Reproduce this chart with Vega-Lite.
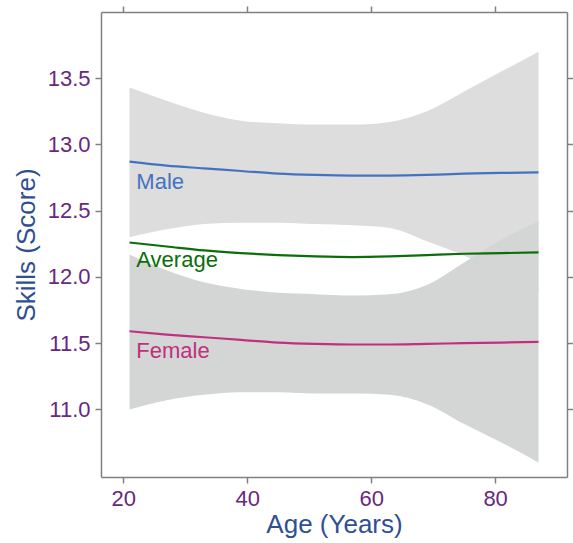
{
  "$schema": "https://vega.github.io/schema/vega-lite/v6.json",
  "autosize": "none",
  "padding": {"left": 101, "top": 12, "right": 6, "bottom": 66},
  "width": 466,
  "height": 465,
  "background": "white",
  "config": {
    "view": {"stroke": null},
    "font": "Liberation Sans",
    "axis": {
      "domainColor": "#808080",
      "domainWidth": 1.5,
      "tickColor": "#808080",
      "tickWidth": 1.5,
      "tickSize": 6,
      "grid": false,
      "labelFont": "Liberation Sans",
      "labelFontSize": 22,
      "labelColor": "#68287d",
      "titleFont": "Liberation Sans",
      "titleFontSize": 26,
      "titleFontWeight": "normal",
      "titleColor": "#2f4f94"
    }
  },
  "datasets": {
    "fits": [
      {"age": 21, "series": "Male", "fit": 12.87, "lo": 12.30, "hi": 13.43},
      {"age": 27, "series": "Male", "fit": 12.84, "lo": 12.36, "hi": 13.33},
      {"age": 33, "series": "Male", "fit": 12.82, "lo": 12.40, "hi": 13.24},
      {"age": 39, "series": "Male", "fit": 12.80, "lo": 12.41, "hi": 13.18},
      {"age": 45, "series": "Male", "fit": 12.78, "lo": 12.41, "hi": 13.16},
      {"age": 51, "series": "Male", "fit": 12.77, "lo": 12.40, "hi": 13.15},
      {"age": 57, "series": "Male", "fit": 12.765, "lo": 12.39, "hi": 13.15},
      {"age": 63, "series": "Male", "fit": 12.765, "lo": 12.37, "hi": 13.17},
      {"age": 69, "series": "Male", "fit": 12.77, "lo": 12.27, "hi": 13.25},
      {"age": 75, "series": "Male", "fit": 12.78, "lo": 12.16, "hi": 13.40},
      {"age": 81, "series": "Male", "fit": 12.785, "lo": 12.02, "hi": 13.55},
      {"age": 87, "series": "Male", "fit": 12.79, "lo": 11.88, "hi": 13.70},
      {"age": 21, "series": "Female", "fit": 11.59, "lo": 11.00, "hi": 12.17},
      {"age": 27, "series": "Female", "fit": 11.565, "lo": 11.07, "hi": 12.05},
      {"age": 33, "series": "Female", "fit": 11.545, "lo": 11.11, "hi": 11.96},
      {"age": 39, "series": "Female", "fit": 11.525, "lo": 11.13, "hi": 11.91},
      {"age": 45, "series": "Female", "fit": 11.505, "lo": 11.13, "hi": 11.88},
      {"age": 51, "series": "Female", "fit": 11.495, "lo": 11.12, "hi": 11.87},
      {"age": 57, "series": "Female", "fit": 11.49, "lo": 11.12, "hi": 11.86},
      {"age": 63, "series": "Female", "fit": 11.49, "lo": 11.11, "hi": 11.87},
      {"age": 69, "series": "Female", "fit": 11.495, "lo": 11.04, "hi": 11.94},
      {"age": 75, "series": "Female", "fit": 11.50, "lo": 10.89, "hi": 12.11},
      {"age": 81, "series": "Female", "fit": 11.505, "lo": 10.75, "hi": 12.28},
      {"age": 87, "series": "Female", "fit": 11.51, "lo": 10.60, "hi": 12.42},
      {"age": 21, "series": "Average", "fit": 12.26},
      {"age": 27, "series": "Average", "fit": 12.23},
      {"age": 33, "series": "Average", "fit": 12.20},
      {"age": 39, "series": "Average", "fit": 12.18},
      {"age": 45, "series": "Average", "fit": 12.165},
      {"age": 51, "series": "Average", "fit": 12.155},
      {"age": 57, "series": "Average", "fit": 12.15},
      {"age": 63, "series": "Average", "fit": 12.155},
      {"age": 69, "series": "Average", "fit": 12.165},
      {"age": 75, "series": "Average", "fit": 12.175},
      {"age": 81, "series": "Average", "fit": 12.18},
      {"age": 87, "series": "Average", "fit": 12.185}
    ],
    "labels": [
      {"series": "Male", "age": 22.1, "score": 12.72},
      {"series": "Average", "age": 22.1, "score": 12.13},
      {"series": "Female", "age": 22.1, "score": 11.44}
    ]
  },
  "resolve": {"axis": {"x": "independent", "y": "independent"}},
  "layer": [
    {
      "data": {"name": "fits"},
      "transform": [{"filter": "datum.series === 'Male'"}],
      "mark": {"type": "area", "color": "#dddddd", "interpolate": "monotone"},
      "encoding": {
        "x": {"field": "age", "type": "quantitative", "scale": {"domain": [16.4, 91.6], "nice": false, "zero": false},
          "axis": {"orient": "bottom", "values": [20, 40, 60, 80], "title": "Age (Years)", "labelPadding": 5, "titlePadding": 2}},
        "y": {"field": "lo", "type": "quantitative", "scale": {"domain": [10.49, 14.0], "nice": false, "zero": false},
          "axis": {"orient": "left", "values": [11.0, 11.5, 12.0, 12.5, 13.0, 13.5], "format": ".1f", "title": "Skills (Score)", "labelPadding": 5, "titlePadding": 8}},
        "y2": {"field": "hi"}
      }
    },
    {
      "data": {"name": "fits"},
      "transform": [{"filter": "datum.series === 'Female'"}],
      "mark": {"type": "area", "color": "#d4d6d6", "interpolate": "monotone"},
      "encoding": {
        "x": {"field": "age", "type": "quantitative",
          "axis": {"orient": "top", "values": [20, 40, 60, 80], "labels": false, "title": null}},
        "y": {"field": "lo", "type": "quantitative",
          "axis": {"orient": "right", "values": [11.0, 11.5, 12.0, 12.5, 13.0, 13.5], "labels": false, "title": null}},
        "y2": {"field": "hi"}
      }
    },
    {
      "data": {"name": "fits"},
      "mark": {"type": "line", "strokeWidth": 2.2, "interpolate": "monotone"},
      "encoding": {
        "x": {"field": "age", "type": "quantitative", "axis": null},
        "y": {"field": "fit", "type": "quantitative", "axis": null},
        "color": {"field": "series", "type": "nominal", "legend": null,
          "scale": {"domain": ["Male", "Average", "Female"], "range": ["#4472c0", "#0a6e0a", "#c0307c"]}}
      }
    },
    {
      "data": {"name": "labels"},
      "mark": {"type": "text", "align": "left", "baseline": "middle", "fontSize": 22, "font": "Liberation Sans"},
      "encoding": {
        "x": {"field": "age", "type": "quantitative", "axis": null},
        "y": {"field": "score", "type": "quantitative", "axis": null},
        "text": {"field": "series"},
        "color": {"field": "series", "type": "nominal", "legend": null}
      }
    }
  ]
}
